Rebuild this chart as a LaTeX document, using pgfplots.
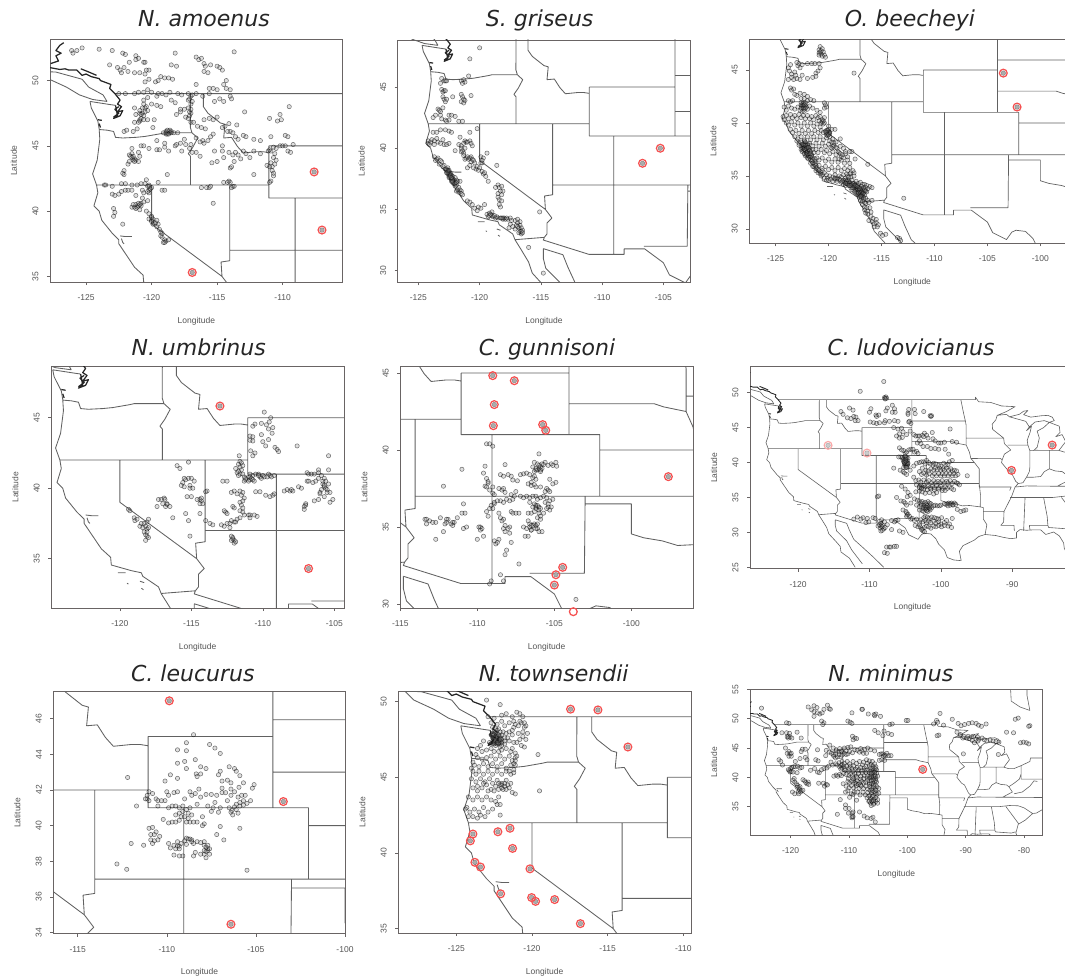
\documentclass[border=0pt]{standalone}
\usepackage{fontspec}
\setmainfont{Liberation Sans}
\newfontfamily\titlefont{DejaVu Sans}
\usepackage{pgfplots}
\pgfplotsset{compat=1.18}
\definecolor{frm}{RGB}{105,100,100}
\definecolor{lab}{RGB}{85,85,85}
\definecolor{ringred}{RGB}{245,80,80}
\pgfplotsset{
 mappanel/.style={scale only axis,clip mode=individual,axis line style={frm,line width=.95pt},
  tick style={frm,line width=.6pt},tick align=outside,major tick length=3pt,
  xtick pos=lower,ytick pos=left,axis on top=false,unbounded coords=jump,
  tick label style={font=\fontsize{8.5}{9}\selectfont,text=lab},
  yticklabel style={rotate=90,anchor=south},
  yticklabel shift=5pt,xticklabel shift=6pt,
  /pgf/number format/assume math mode=true,/pgf/number format/1000 sep={},
  xlabel={Longitude},ylabel={Latitude},
  label style={font=\fontsize{8.5}{9}\selectfont,text=lab},
  xlabel style={at={(axis description cs:.5,0)},anchor=base,yshift=-41pt},
  ylabel style={at={(axis description cs:0,.5)},anchor=base,rotate=0,yshift=33pt},
 },
 pts/.style={only marks,mark=*,mark size=2.15pt,mark options={draw=black,draw opacity=.55,fill=gray,fill opacity=.25,line width=.5pt}},
 ring/.style={only marks,mark=*,mark size=3.9pt,mark options={draw=ringred,fill=white,fill opacity=0,line width=1.25pt}},
 ringpt/.style={only marks,mark=*,mark size=2.3pt,mark options={draw=black!55,fill=gray!65,line width=.3pt}},
}
\newcommand\mapborders[1]{%
\addplot[black!62,line width=#1,line join=round,forget plot] coordinates {
(-124.7,48.4)(-124.6,47.9)(-124.1,46.9)(-124.05,46.6)(-124,46.3)(-123.95,45.5)(-124.05,44.7)(-124.15,43.9)(-124.5,42.85)(-124.2,42)(-124.1,41.4)(-124.4,40.4)(-124,40)(-123.8,39.3)(-123,38.3)(-122.5,37.8)(-122.5,37.5)(-121.9,36.6)(-121.3,35.7)(-120.65,35.1)(-120.6,34.55)(-119.2,34.15)(-118.5,34)(-118.4,33.75)(-117.3,33)(-117.1,32.5)(-116.6,31.7)(-116,30.7)(-115.7,29.8)(-114.7,28.7)(-114.1,28)(-114,27.2)(-112.8,26.3)(-112,25)(nan,nan)
(-114.8,31.8)(-114.8,31)(-114.6,30.2)(-113.2,28.8)(-112.5,27.5)(-111,25.5)(nan,nan)
(-114.8,31.8)(-113.2,31.3)(-112.8,30.3)(-112.2,29)(-111,27.9)(-109.5,26.5)(-108,25)(nan,nan)
(-123.4,48.4)(-124.5,48.55)(-125.5,48.9)(-126.5,49.5)(-127.8,50.1)(-128.4,50.7)(-127.3,50.65)(-125.3,50.1)(-124.8,49.5)(-123.7,48.9)(-123.4,48.4)(nan,nan)
(-124.7,48.4)(-123.1,48.15)(-122.75,48.1)(nan,nan)
(-122.8,49)(-95.15,49)(-95.15,49.35)(-94.7,48.7)(-93,48.6)(-91.5,48.1)(-89.6,48)(-90.8,47.3)(-92.1,46.75)(-92.3,46.1)(-92.8,45.5)(-92.75,44.75)(-91.2,43.5)(-91.1,42.7)(-90.2,41.8)(-91.1,41.2)(-91.4,40.4)(-91.5,40)(-90.7,39)(-90.2,38.7)(-89.5,37.3)(-89.15,37)(-89.6,36.5)(-90.1,35.1)(-91.15,33)(-91.2,31.5)(-91.6,31)(-89.75,31)(-89.7,30.2)(nan,nan)
(-124,46.25)(-123.4,46.2)(-122.9,46.1)(-122.75,45.65)(-122.2,45.6)(-121.2,45.65)(-120.5,45.72)(-119.3,45.93)(-119,46)(-116.92,46)(nan,nan)
(-117.03,49)(-117.04,46.4)(-116.92,46)(-116.48,45.6)(-116.85,44.9)(-117.2,44.4)(-117.03,44.2)(-117.03,42)(nan,nan)
(-124.2,42)(-111.05,42)(nan,nan)
(-120,42)(-120,39)(-114.63,35)(-114.1,34.3)(-114.5,33.9)(-114.5,33)(-114.72,32.72)(-114.8,32.5)(-111.07,31.33)(-108.2,31.33)(-108.2,31.78)(-106.53,31.78)(-105,30.65)(-104.5,29.65)(-103.2,29)(-102.7,29.7)(-102.3,29.88)(-101.4,29.77)(-100.7,29.1)(-100.3,28.3)(-99.5,27.5)(-99.1,26.4)(-98.2,26.05)(-97.15,25.95)(-97.4,27.3)(-96.9,28.1)(-95.3,28.9)(-94.7,29.4)(-93.8,29.7)(-92.3,29.55)(-91.3,29.3)(-90.2,29.1)(-89.4,29.2)(-89.4,30)(-88.9,30.4)(-88,30.3)(-87.2,30.35)(-86,30.35)(-85.3,29.7)(-84.2,30.05)(-83.4,29.5)(-82.8,28.5)(-82.7,27.7)(-81.8,26.1)(-81,25.2)(-80.2,25.5)(-80.05,26.9)(-80.6,28.5)(-81.4,30.5)(-81,32)(-79.8,32.7)(-78.5,33.85)(-77.9,33.9)(-76.5,34.7)(-75.5,35.3)(nan,nan)
(-117.12,32.53)(-114.72,32.72)(nan,nan)
(-114.04,42)(-114.04,36.2)(-114.7,36.1)(-114.63,35)(nan,nan)
(-116.05,49)(-116.05,48)(-115.7,47.5)(-114.75,46.75)(-114.4,46.65)(-114.5,45.6)(-113.9,45.65)(-113.45,44.95)(-113,44.45)(-112,44.55)(-111.5,44.55)(-111.05,44.48)(nan,nan)
(-111.05,45)(-104.05,45)(nan,nan)
(-111.05,45)(-111.05,41)(-109.05,41)(-102.05,41)(-102.05,37)(nan,nan)
(-109.05,41)(-109.05,31.33)(nan,nan)
(-114.04,37)(-94.62,37)(nan,nan)
(-104.05,49)(-104.05,41)(nan,nan)
(-104.05,45.94)(-96.56,45.94)(nan,nan)
(-104.05,43)(-98.5,43)(-97.9,42.8)(-96.45,42.5)(-96,41.5)(-95.8,40.6)(-95.3,40)(-94.62,39.1)(-94.62,36.5)(nan,nan)
(-102.05,40)(-95.3,40)(nan,nan)
(-103,37)(-103.05,32)(-106.6,32)(nan,nan)
(-103,36.5)(-100,36.5)(-100,34.55)(-99.2,34.3)(-98,34.1)(-97,33.8)(-96,33.85)(-94.5,33.65)(-94.04,33.55)(-94.04,31.9)(-93.55,31.1)(-93.8,29.7)(nan,nan)
(-94.62,37)(-94.45,35.4)(-94.48,33.65)(nan,nan)
(-94.04,33)(-91.15,33)(nan,nan)
(-94.62,36.5)(-90.15,36.5)(-90.35,36)(nan,nan)
(-95.77,40.58)(-91.7,40.6)(-91.4,40.4)(nan,nan)
(-97.2,49)(-96.8,47)(-96.56,45.94)(-96.45,45.3)(-96.45,42.5)(nan,nan)
(-96.45,43.5)(-91.2,43.5)(nan,nan)
(-90.65,42.5)(-87.8,42.5)(nan,nan)
(-87.53,41.7)(-87.53,39.3)(-87.6,38.7)(-88,37.9)(-87,37.9)(-86,38)(-85.5,38.7)(-84.8,39.1)(-84,38.8)(-83,38.7)(-82.6,38.4)(-81.7,39)(-80.8,39.7)(-80.5,40.6)(nan,nan)
(-89.15,37)(-88.5,37.1)(-88,37.9)(nan,nan)
(-84.8,39.1)(-84.8,41.73)(nan,nan)
(-87,41.76)(-84.8,41.73)(-83.45,41.73)(nan,nan)
(-89.5,36.5)(-88,36.65)(-83.7,36.6)(-81.7,36.6)(-75.9,36.55)(nan,nan)
(-90.3,35)(-84.3,35)(-82.5,35.2)(-81,35.15)(-80,34.8)(-78.55,33.85)(nan,nan)
(-88.2,35)(-88.4,30.2)(nan,nan)
(-85.6,35)(-85.1,32.3)(-85,31)(-84.9,30.7)(-82.2,30.5)(-81.5,30.7)(nan,nan)
(-87.5,30.3)(-87.6,31)(-85,31)(nan,nan)
(-83.1,35)(-81.9,33.4)(-80.9,32.05)(nan,nan)
(-83.7,36.6)(-82,37.5)(-82.6,38.4)(nan,nan)
(-81.7,37.2)(-80.3,37.5)(-79,38.5)(-78.3,39.4)(-77.7,39.3)(nan,nan)
(-75.8,39.7)(-80.5,39.7)(-80.5,42)(nan,nan)
(-87.8,42.5)(-87.53,41.7)(-87,41.7)(-86.5,42.2)(-86.2,43.5)(-86.5,44.5)(-85.6,45)(-84.8,45.75)(-85.5,46)(-86.8,45.8)(-87.6,45.1)(-88,44.55)(-87.3,45.2)(-87.5,44.3)(-87.9,43.2)(-87.8,42.5)(nan,nan)
(-92.1,46.75)(-90.8,46.9)(-90.4,46.55)(-89,46.9)(-88.4,47.35)(-87.8,47.45)(-88.4,46.85)(-87.4,46.5)(-85.9,46.7)(-85,46.75)(-84.4,46.5)(-84.1,46)(-84.8,45.75)(-83.4,45.2)(-83.3,44.3)(-83.9,43.7)(-83,44)(-82.5,43)(-83.1,42.2)(-83.45,41.73)(-82.7,41.5)(-81.7,41.5)(-80.5,42)(-79,42.7)(-78.9,43.3)(-76.8,43.3)(nan,nan)
(-90.4,46.55)(-88.1,45.9)(-87.6,45.1)(nan,nan)
(-82.3,55)(-82.2,53)(-80.7,52)(-79,51.4)(-79.5,54)(-79.5,55)(nan,nan)
(-122.4,38.1)(-122,38.05)(-121.5,38.05)(nan,nan)(-122.3,37.9)(-122.2,37.6)(-122.1,37.5)(nan,nan)
(-120.15,34)(-119.6,34)(nan,nan)(-118.6,33.4)(-118.3,33.3)(nan,nan)(-118.5,32.9)(-118.35,32.8)(nan,nan)(-119.5,33.25)(-119.4,33.2)
};
\addplot[black!85,line width=1.45*#1,line join=round,forget plot] coordinates {
(-122.75,48.1)(-122.6,47.3)(-122.9,47.1)(-122.4,47.3)(-122.2,47.7)(-122.6,47.6)(-122.3,48)(-122.6,48.2)(-122.4,48.5)(-122.8,49)(-123.2,49.4)(-123.1,49.7)(-123.9,50)(-124,50.15)(-124.6,50.3)(-125,50.5)(-125.3,50.4)(-125.7,50.8)(-126.3,50.8)(-126.6,50.9)(-127,50.85)(-127.8,51)(nan,nan)
(-122.9,47.2)(-122.5,47.5)(-122.8,47.8)(-122.5,48)(nan,nan)
(-127.7,51.3)(-127.1,51.5)(-127.3,51.9)(-126.9,52.1)(-127.3,52.3)(-127,52.7)(-126.7,52.9)(nan,nan)
(-124.2,50.4)(-124.9,50.7)(-125.4,50.9)(nan,nan)
(-124.1,47)(-123.8,46.95)(nan,nan)(-124,46.7)(-123.9,46.4)
};
}
\begin{document}
\begin{tikzpicture}[x=1pt,y=1pt]
\path[use as bounding box] (0,0) rectangle (1065pt,-976pt);
% ---------- 1 N. amoenus
\begin{axis}[mappanel,anchor=north west,at={(50pt,-39.3pt)},width=292.7pt,height=242.7pt,
 xmin=-127.75,xmax=-105.42,ymin=34.57,ymax=53.16,xtick={-125,-120,-115,-110},ytick={35,40,45,50}]
\mapborders{.85pt}
\addplot[pts] coordinates {(-126.1,52.3)(-126,52.1)(-125.7,52.3)(-125.3,52.5)(-124,52.4)(-123,52.3)(-122.2,52.1)(-122,52)(-123.2,51.2)(-122.6,51)(-122.4,50.8)(-122.1,51)(-122.3,50.6)(-121.8,50.7)(-121.7,51.4)(-121.2,51.9)(-121,51.7)(-121.2,51.6)(-120.6,51.4)(-120.5,51.4)(-121.3,50.6)(-120.9,50.6)(-120.5,50.5)(-120.4,50.8)(-120.2,50.8)(-120.5,49.9)(-120.2,50.1)(-119.7,49.9)(-119.5,50)(-119.3,50.3)(-119,50.2)(-118.7,50.2)(-118.4,50.1)(-118.5,51.2)(-118.1,51.1)(-118.2,52.1)(-116.6,51.8)(-116.4,51.6)(-116.2,51.7)(-116,51.3)(-115.9,51.1)(-116,50.7)(-115.7,50.6)(-115.5,51.2)(-115,51.1)(-114.8,51)(-114.6,50.8)(-113.7,52.2)(-114.3,50)(-114.5,49.7)(-114.3,49.4)(-114,49.3)(-115.6,49.4)(-115.3,49.4)(-115,49.3)(-116.6,49.7)(-122.5,49)(-122,49)(-121.3,49)(-121,49.1)(-120.6,49.1)(-120.3,49.3)(-120,49.1)(-119.5,49)(-119.2,49)(-118.6,49.1)(-118,49)(-117.7,48.9)(-117.2,49)(-117,48.8)(-116.6,49)(-116.1,48.8)(-115.6,49)(-115.2,48.4)(-114.5,48.4)(-114,48.8)(-113.9,48.6)(-114.8,48.6)
(-120.6,48.5)(-120.7,47.9)(-120.4,48)(-120.7,47.5)(-120.3,47.7)(-120,48.2)(-119.6,48.1)(-121.2,47.4)(-120.9,47)(-121,46.8)(-121.3,46.8)(-120.6,47)(-120.3,47)(-119.8,47)(-119.9,46.4)(-120.8,47.1)(-120.6,47.3)(-118.5,48.5)(-118.2,48.3)(-117.8,47.8)(-117.5,47.8)(-117.8,47.6)(-117.2,47.9)(-117.2,48.5)(-117,48.2)(-117.1,47.6)(-117,46.8)(-116.8,46.8)(-116.5,46.5)(-116.2,46.4)(-115.9,46.3)(-116,47)(-115.6,47.1)(-115.3,47)(-115,47.2)(-114.6,46.4)(-114.4,46.5)(-114.1,46.7)(-114,46.1)(-113.8,46)(-113.6,45.7)(-113.4,45.5)(-113.5,46.6)(-114.2,46.1)(-112.9,47.6)(-113,45.8)(-112.8,45.7)(-112.2,45.5)(-111.7,45.4)(-111,47.1)(-110.9,45.7)(-110.4,46.9)(-110.1,47)(-110.2,47.4)(-109.5,48)(-109.8,45.8)
(-118.9,46.1)(-118.8,45.9)(-118.7,46.1)(-118.5,46.1)(-118.3,46)(-118,46)(-117.5,45.5)(-117.8,45.2)(-118.1,45.1)(-118.6,46)(-118.9,45.9)(-119,45.2)(-119,44.9)(-118.7,44.6)(-119.4,44.7)(-119.6,44.7)(-120.2,44.8)(-120.6,45)(-121.5,44.8)(-120.8,45)(-119.6,45.4)(-118.2,45)(-117.7,44.6)(-117.4,45.1)(-117,45.1)(-117.1,44.8)(-116.6,44.5)(-116.9,44.5)(-116.3,44.2)(-116.6,45.6)(-116.3,45.3)(-116.1,45.4)(-116,45.2)(-115.7,45.4)(-115.5,45.7)(-115.3,45.9)(-115.2,44.6)(-115.4,43.7)(-115,43.8)(-114.6,45)(-114.6,44.6)(-114.5,44.1)(-114.1,44.5)(-113.8,44.3)(-114,43.3)(-113.9,43.4)(-113.7,43.8)(-113.2,44)(-113,44.6)(-112.8,44.4)(-113.4,44.3)(-113.6,44.5)(-112.2,44.6)(-111.7,44.4)(-112.2,42.8)(-112.5,44.1)
(-121.7,44.3)(-121.5,44.4)(-121.5,44.1)(-121.3,44)(-121.7,43.8)(-121.2,43.9)(-121,43.8)(-120.9,44.2)(-121,44.5)(-121.8,43.6)(-122.1,43.1)(-122.1,42.8)(-122.2,42.9)(-121.4,43.9)(-121.6,44.2)
(-111,44.7)(-110.9,44.6)(-110.7,44.9)(-110.6,44.4)(-110.7,44.1)(-110.9,43.7)(-110.6,43.6)(-110.8,43.4)(-111,43.4)(-110.8,43.1)(-110.7,42.7)(-110.9,42.3)(-111,42.2)(-110.7,42.9)(-110.5,44.8)(-110.2,45)(-110,45)(-109.8,45)(-109.6,44.6)(-109.4,44.5)(-109.2,45.1)(-109.6,45.7)(-111.1,44.6)(-111.2,43.5)(-110.5,43.9)
(-123.6,42)(-123.5,42)(-123,41.9)(-122.3,42.1)(-122,42.1)(-121.5,42)(-121.1,42)(-120.8,42.1)(-120.5,42.1)(-120.3,41.9)(-120.2,42)(-120.2,41.6)(-120.2,41.4)(-120,41.8)(-119.5,42.2)(-119.2,41.6)(-119,41.6)(-120.4,42.4)(-118.8,42.8)(-116.2,41.8)(-115.8,41.8)(-115.6,41.8)(-115.5,41.9)(-115.3,40.6)(-114.5,42.2)(-114.2,42.2)(-114,42.2)(-113.8,41.9)(-113.9,41.8)(-113.7,41.9)(-114.1,42.3)(-123,41.3)(-122.8,41.2)(-122.5,41.3)(-122.3,41.5)(-122,41.6)(-121.8,41.6)(-121.5,41.6)(-121.2,41.2)(-120.7,41.6)(-120.6,41.4)(-120.7,41)(-122.9,40.2)(-122.8,39.9)(-122.9,39.6)(-122.2,39)(-121.5,40.3)(-121.3,40.3)(-121.2,40.5)(-121,40.6)(-120.8,40.6)(-120.6,40.7)(-120.3,40.8)(-121.4,40.5)(-121.2,40.2)(-120.9,40.1)(-120.4,40)(-120.2,39.8)(-120,39.6)(-120.2,39.4)(-120,39.3)(-119.8,39.1)(-119.6,39.3)(-119.9,39)(-119.6,38.8)(-119.4,38.6)(-119.2,38.3)(-119.2,38)(-119,37.8)(-118.9,37.7)(-119.1,37.6)(-118.7,37.8)(-119.3,38.4)(-119.5,39)
(-121.3,47.9)(-120.9,47.5)(-120.5,47.9)(-120.3,48.7)(-119.3,48)(-119.6,48.8)(-118.9,48.9)(-118.1,47.4)(-117.4,47.2)(-117.2,47.1)(-117.1,47.3)(-117,47.5)(-117,47.8)(-116.9,48.4)(-116.9,48.9)(-117.1,48.6)(-122.1,46.1)(-121.9,46.2)(-121.4,46.1)(-121.1,46.3)(-119.1,46)(-118.9,46)(-118.8,46.2)
(-120.6,48.2)(-120.9,47.7)(-120.8,47.4)(-120.9,46.9)(-120.5,47.6)(-118.5,46)(-118.7,45.9)(-118.6,46.2)(-120.2,41.9)(-120.1,41.7)(-120.3,41.5)(-121,40.4)(-120.8,40.4)(-121.1,40.3)(-120.9,40.5)(-120,39.5)(-119.9,39.4)(-120,39.2)(-119.7,39.1)(-119.3,38.1)(-119,37.6)(-121.4,44.2)(-121.3,43.8)};
\addplot[ringpt] coordinates {(-107.6,43)(-107,38.55)(-116.9,35.3)};
\addplot[ring] coordinates {(-107.6,43)(-107,38.55)(-116.9,35.3)};
\end{axis}
% ---------- 2 S. griseus
\begin{axis}[mappanel,anchor=north west,at={(397.7pt,-40pt)},width=292.6pt,height=242.3pt,
 xmin=-126.69,xmax=-102.8,ymin=29.05,ymax=48.84,xtick={-125,-120,-115,-110,-105},ytick={30,35,40,45}]
\mapborders{.85pt}
\addplot[pts] coordinates {(-120.8,47.3)(-120,48.2)(-123.1,45.7)(-122.9,45.5)(-123.2,45.3)(-122.8,45.5)(-122.7,45.5)(-121.5,45.5)(-121.3,45.6)(-121.2,45.4)(-120.9,45.9)(-121.4,45.3)(-123.1,44.8)(-122.9,44.7)(-123,44.6)(-122.8,44.7)(-123,44.2)(-122.9,44)(-122.7,44)(-122.8,43.8)(-122.2,44.2)(-121.5,44.4)(-121.4,44.2)(-121.3,44)(-121.5,43.8)(-121.2,43.9)(-121.3,43.7)(-120.7,44.3)(-123.4,43.2)(-123.2,43)(-123,43.3)(-123.2,42.7)(-123.3,43.1)(-123.6,42.7)(-123.8,42.5)(-123.1,42.4)(-122.8,42.3)(-122.5,42.7)(-122.3,42.7)(-122,42.6)(-121.7,42.2)(-121.4,42.2)(-122.7,42.2)(-122.5,42.3)
(-124.2,40.4)(-124.2,40.6)(-124.1,40.3)(-124,40.5)(-123.9,40.7)(-123.7,40.6)(-123.5,40.8)(-123.7,40.3)(-123.4,40.5)(-123.2,40.4)(-123,40.7)(-122.9,40.3)(-122.7,40.3)(-122.5,40.4)(-123.8,41.3)(-123.5,41.3)(-123.2,41.5)(-122.8,41.5)(-122.5,41.4)(-122.3,41.3)(-121.6,40.9)(-121.2,40.6)(-121.1,40.5)(-120.8,41.3)(-120.2,41.6)(-121.7,40.3)(-121.5,40.2)(-121.3,40.4)(-121,40.5)(-120.8,40.6)(-120.7,40.4)(-120.6,40.2)(-121.5,40)(-121.4,39.8)(-121.2,40)(-121.5,39.7)(-121.3,39.6)(-122,39.8)(-119.4,39.6)(-119.9,39.3)(-119.7,39.2)(-119.8,39)(-119.9,38.8)(-119.8,38.8)(-118.6,38.6)
(-123.7,39.3)(-123.5,39.1)(-123.6,39)(-123.4,39.2)(-123.2,39)(-123.1,38.9)(-123.3,38.7)(-123,38.5)(-122.9,38.6)(-122.8,38.3)(-122.7,38.2)(-122.6,38.4)(-122.5,38.1)(-122.6,37.9)(-122.4,38)(-122.3,37.8)(-122.5,37.7)(-122.3,37.5)(-122.2,37.7)(-122.1,37.4)(-122,37.6)(-122,37.2)(-121.9,37)(-121.8,37.3)(-121.6,37.3)(-121.7,36.8)(-121.9,36.5)(-121.7,36.4)(-121.5,36.5)(-121.4,36.2)(-121,35.7)(-120.8,35.6)(-120.6,35.4)(-120.4,35.1)(-120.1,35.2)(-120.2,34.9)(-119.9,35.1)(-119.6,35.4)
(-122.7,38.3)(-122.6,38.1)(-122.4,37.9)(-122.5,37.6)(-122.3,37.3)(-122.2,37.2)(-122.1,37.1)(-122,36.9)(-121.9,37.4)(-121.8,36.6)(-121.6,36.6)(-121.5,36.3)(-122.4,37.7)(-122.2,37.5)(-122.6,38.2)(-122.7,38)
(-121.3,39.4)(-121.1,39.2)(-120.9,39.1)(-120.7,39.3)(-120.5,39)(-120.7,38.9)(-120.4,38.8)(-120.2,38.5)(-120.5,38.4)(-120.8,38.6)(-121,38.4)(-120.3,38.3)(-120.1,38.2)(-120,38.4)(-119.8,38.1)(-119.7,37.9)(-119.6,38)(-119.5,37.7)(-119.3,37.3)(-121,39.3)(-120.8,39.2)(-121.2,39.1)(-120.6,39.1)
(-118.5,37)(-118.7,36.8)(-118.4,36.8)(-118.2,36.9)(-118.3,36.5)(-118.5,36.3)(-118.2,36.2)(-118.1,36.5)(-118.4,35.8)(-118.2,35.7)(-118.4,35.4)(-118.3,35.2)(-118.5,36)
(-119.4,34.6)(-119.3,34.4)(-119.2,34.7)(-119,34.8)(-119.2,34.5)(-119,34.5)(-118.9,34.4)(-118.7,34.3)(-118.5,34.3)(-118.3,34.3)(-118.1,34.2)(-118,34.3)(-117.9,34.2)(-117.7,34.2)(-117.4,34.1)(-117.5,34.3)(-117.1,34.1)(-116.9,34.2)(-116.7,34)(-116.9,33.9)(-117,33.7)(-116.7,33.7)(-116.6,33.5)(-116.5,33.3)(-116.7,33.2)(-116.6,33)(-116.8,33.1)(-117.1,33.4)(-117.3,33.6)(-117.5,33.8)(-117.6,33.5)(-115.1,34.8)(-116,31.9)(-114.8,29.8)(-118.6,34.4)(-118.2,34.3)(-118.1,34.3)(-117.8,34.3)(-116.8,33.5)(-116.6,33.2)(-116.5,33.1)(-116.9,33.6)(-119.1,34.6)(-118.8,34.5)
(-122.5,37.9)(-122.4,37.8)(-122.3,37.6)(-122.2,37.3)(-122,37.1)(-121.9,37.2)(-122.6,38)(-122.5,38.2)};
\addplot[ringpt] coordinates {(-105.25,40)(-106.7,38.77)};
\addplot[ring] coordinates {(-105.25,40)(-106.7,38.77)};
\end{axis}
% ---------- 3 O. beecheyi
\begin{axis}[mappanel,anchor=north west,at={(749.3pt,-39.3pt)},width=326pt,height=204pt,
 xmin=-127.49,xmax=-96.7,ymin=28.65,ymax=47.89,xtick={-125,-120,-115,-110,-105,-100},ytick={30,35,40,45}]
\mapborders{.7pt}
\addplot[pts] coordinates {(-120.9,46.9)(-120.8,47.2)(-120.6,47)(-120.9,46.6)(-120.7,46.5)(-120.5,46.7)(-120.4,46.4)(-120.9,46.4)(-120.3,46.2)(-120.6,46.3)(-120.7,46.8)(-120.8,46.7)(-123,45.7)(-122.9,45.4)(-122.8,45.6)(-122.7,45.2)(-122.5,45.5)(-122,45.6)(-121.6,45.6)(-121.3,45.6)(-120.9,45.6)(-120.8,45.2)(-121,44.9)(-121.2,44.7)(-121.2,44.4)(-121.5,44.3)(-122,44.2)(-122.5,44.5)(-122.7,44.1)(-123,44.2)(-123.1,44.5)(-123.3,44.1)(-123.5,44.6)(-123.7,44.9)(-123.8,45.2)(-123.6,45.5)(-123.8,44.1)(-123.5,44.3)(-123.2,44.8)(-123.6,43.3)(-123.5,43.1)(-123.3,43.2)(-117.6,44.7)(-123.8,42.1)(-123.6,42)(-123.4,42.1)(-123.2,42.7)(-123,42.6)(-122.7,42.8)(-122.3,42.7)(-122,42.5)(-121.7,42.2)(-121.4,42.1)(-122.6,42.3)(-122.3,42.3)(-122,42.1)(-120.4,41.9)(-120.3,41.7)(-120.2,41.5)(-120.4,41.4)
(-124.2,41.5)(-124,41.2)(-123.8,41.6)(-123.5,41.4)(-123.2,41.3)(-122.9,41.5)(-122.7,41.2)(-122.5,41.6)(-122.4,41.9)(-122.3,41.5)(-122.2,41.7)(-122,41.3)(-121.8,41.6)(-121.5,41.4)(-121.1,41.2)(-120.8,41)(-122.5,41.1)(-122.3,41.3)(-122.6,41.4)(-122.1,41.5)(-124.3,40.6)(-124.2,40.3)(-124,40.7)(-123.8,40.4)(-123.6,40.8)(-123.4,40.5)(-123.2,40.7)(-123,40.4)(-122.8,40.8)(-122.6,40.5)(-122.4,40.7)(-122.2,40.4)(-122,40.7)(-121.8,40.4)(-121.6,40.6)(-121.4,40.3)(-121.2,40.7)(-121,40.5)(-120.8,40.6)(-120.6,40.3)(-120.4,40.5)(-124,40)(-123.8,39.8)(-123.5,40.1)(-123.2,39.8)(-122.9,40)(-122.6,39.7)(-122.3,40)(-122,39.7)(-121.7,40)(-121.4,39.7)(-121.1,39.9)(-120.8,39.6)(-120.5,39.9)(-120,39.7)(-119.7,39.4)
(-123.6,39.4)(-123.4,39.1)(-123.1,39.3)(-122.8,39)(-122.5,39.3)(-122.2,39)(-121.9,39.3)(-121.6,39)(-121.3,39.3)(-121,39.1)(-120.7,39.3)(-120.5,39.1)(-120.2,39.3)(-120,39.1)(-120.2,38.9)(-120.1,39)(-120,39.2)(-119.9,39)(-120.3,39.2)(-123.2,38.7)(-122.9,38.5)(-122.6,38.7)(-122.3,38.4)(-122,38.7)(-121.7,38.4)(-121.4,38.7)(-121.1,38.4)(-120.8,38.7)(-120.5,38.4)(-120.2,38.6)(-119.9,38.3)(-119.6,38.5)(-119.3,38.2)(-123,38.3)(-122.8,38.1)(-122.6,38.2)(-122.4,37.9)(-122.2,38.1)(-122,37.9)(-121.8,38.1)(-121.5,37.8)(-121.2,38.1)(-120.9,37.8)(-120.6,38.1)(-120.3,37.8)(-120,38)(-119.8,37.7)(-119.5,37.9)(-119.2,37.6)(-118.9,37.8)(-118.6,37.6)(-118.4,37.3)
(-122.8,37.9)(-122.6,37.8)(-122.5,37.6)(-122.3,37.7)(-122.4,37.4)(-122.2,37.5)(-122.1,37.2)(-122,37.4)(-121.8,37.6)(-121.9,37.1)(-121.7,37.3)(-121.5,37.5)(-121.6,37)(-121.4,37.2)(-121.2,37.5)(-121,37.2)(-120.7,37.5)(-120.4,37.2)(-120.2,37.4)(-119.9,37.1)(-119.6,37.3)(-119.3,37)(-119,37.2)(-118.7,37)(-118.4,37.1)(-118.2,36.8)(-122.2,36.9)(-122,36.7)(-121.8,36.8)(-121.7,36.5)(-121.5,36.7)(-121.3,36.4)(-121.1,36.7)(-120.9,36.5)(-120.6,36.7)(-120.3,36.4)(-120,36.6)(-119.7,36.3)(-119.4,36.6)(-119.1,36.3)(-118.8,36.5)(-118.5,36.2)(-118.2,36.5)(-118,36.2)(-121.7,36.2)(-121.5,35.9)(-121.3,36.1)(-121.1,35.8)(-120.9,36)(-120.6,35.7)(-120.3,35.9)(-120,35.6)(-119.7,35.8)(-119.4,35.5)(-119.1,35.8)(-118.8,35.5)(-118.5,35.7)(-118.2,35.5)(-118,35.8)(-117.9,35.3)(-117.6,35.3)(-116.3,36.1)
(-121.2,35.5)(-121,35.3)(-120.8,35.4)(-120.6,35.1)(-120.4,35.3)(-120.2,35.1)(-120.4,34.8)(-120.1,34.8)(-119.9,35)(-119.6,34.9)(-119.4,35.1)(-119.2,34.8)(-119,35)(-118.8,34.9)(-118.6,35.1)(-118.4,34.8)(-118.2,35)(-117.9,34.9)(-117.6,35)(-120.2,34.6)(-120,34.6)(-119.8,34.7)(-119.6,34.5)(-119.4,34.7)(-119.2,34.5)(-119,34.7)(-118.8,34.4)(-118.6,34.6)(-118.4,34.4)(-118.2,34.6)(-118,34.4)(-117.8,34.6)(-117.6,34.3)(-117.4,34.5)(-117.2,34.3)(-117,34.4)(-116.8,34.2)(-116.6,34.2)(-116.4,34.1)(-116.1,34)(-115.9,33.9)(-118.6,34.2)(-118.4,34.1)(-118.2,34.2)(-118,34.1)(-117.9,33.9)(-117.7,34.1)(-117.5,33.9)(-117.3,34.1)(-117.1,33.9)(-116.9,34)(-116.7,33.9)(-116.5,33.9)(-116.3,33.8)(-117.8,33.7)(-117.6,33.6)(-117.4,33.7)(-117.2,33.5)(-117,33.7)(-116.8,33.5)(-116.6,33.6)(-116.4,33.5)(-117.4,33.4)(-117.2,33.2)(-117,33.3)(-116.8,33.1)(-116.6,33.2)(-117.1,33)(-116.9,32.9)(-116.7,32.8)(-116.5,32.9)(-116.3,32.7)(-117,32.7)(-116.8,32.6)(-116.6,32.5)(-115.9,32.7)(-116.2,32.5)(-112.9,32.9)
(-116.8,32.3)(-116.6,32.1)(-116.5,32.4)(-116.4,32)(-116.6,31.8)(-116.3,31.7)(-116.1,32)(-116,31.6)(-116.3,31.4)(-116,31.2)(-115.8,31)(-115.9,30.7)(-115.7,30.5)(-115.5,30.9)(-115.5,30.6)(-115.3,30.4)(-115.4,30.2)(-115.1,29.6)(-114.9,29.4)(-114.6,29.5)(-113.5,29.2)(-113.3,29.1)(-113.2,28.9)(-116.2,30.8)(-115.7,30.2)(-116.5,31.5)
(-118.3,35.2)(-118,35.2)(-117.7,35.5)(-118.1,34.9)(-118.4,34.6)(-118.5,34.4)(-118.3,34.3)(-118,34.3)(-117.8,34.2)(-117.6,34.1)(-117.4,34)(-117.2,33.9)(-117,33.8)(-116.8,33.7)(-116.6,33.7)(-117.3,33.3)(-117.1,33.2)(-116.9,33.2)(-116.7,33)(-116.9,33.4)(-117,33.5)(-117.3,33.8)(-117.5,34.2)(-117.7,34.3)(-118.1,34.5)(-118.3,34.5)
(-122.3,38.3)(-122.2,38.2)(-122.5,38)(-122.3,37.9)(-122.1,37.8)(-122,38)(-122.4,37.6)(-122.2,37.4)(-122,37.3)(-121.9,37.5)(-122.3,37.1)(-122.1,37)(-121.9,36.9)(-121.7,36.8)(-121.9,36.6)(-121.6,36.4)(-121.5,36.2)(-121.4,35.9)(-121.2,35.7)(-121,35.6)(-120.8,35.2)(-120.7,35)(-122.6,37.5)(-122.5,37.3)(-120,39.4)(-120.1,39.3)(-119.9,39.1)(-120.2,39.1)(-120.1,38.8)(-119.9,38.7)(-120,38.9)(-119.7,38.2)(-119.5,38.1)(-119.6,37.8)(-119.7,37.6)(-119.3,37.7)(-119.1,37.3)(-118.9,37.1)(-118.8,36.8)(-119,36.6)(-118.6,36.7)(-122.5,41.7)(-122.4,41.8)(-122.6,41.9)(-122.2,41.9)(-122.6,41.7)(-122.4,41.6)(-122.3,41.1)(-120.5,40.2)(-120.6,40.1)(-120.7,40)(-120.4,40)(-120.9,40.2)(-119.4,39.4)(-118.9,38.5)(-118,37.3)(-117.8,37.3)(-117.5,36.6)
(-122.4,38)(-122.2,37.9)(-122,37.7)(-122.3,37.5)(-122.1,37.6)(-121.9,37.7)(-121.8,37.4)(-122,37.1)(-121.8,37.1)(-121.6,36.9)(-121.7,37.1)(-121.5,36.5)(-121.3,36.6)(-121.2,36.2)(-121.2,36)(-120.9,35.5)(-120.6,35.5)(-118.2,34.3)(-118.1,34.1)(-117.9,34.1)(-117.7,33.9)(-117.5,34.1)(-117.3,33.7)(-117.2,33.7)(-117.1,33.6)(-116.9,33.5)(-117,33.4)(-116.9,33.1)(-116.8,33.3)(-117.1,33.8)(-117.3,34)(-117.5,33.5)(-117.2,33.4)(-117,33.1)(-116.7,33.4)(-116.5,33.6)(-118.4,34.3)(-118.7,34.5)(-118.9,34.6)(-119.2,34.7)(-119.4,34.8)(-122.4,41.4)(-122.3,41.7)(-122.2,41.4)};
\addplot[ringpt] coordinates {(-103.5,44.7)(-102.2,41.5)};
\addplot[ring] coordinates {(-103.5,44.7)(-102.2,41.5)};
\end{axis}
% ---------- 4 N. umbrinus
\begin{axis}[mappanel,anchor=north west,at={(51.3pt,-366.7pt)},width=292.7pt,height=241.3pt,
 xmin=-124.8,xmax=-104.32,ymin=31.5,ymax=48.62,xtick={-120,-115,-110,-105},ytick={35,40,45}]
\mapborders{.85pt}
\addplot[pts] coordinates {(-109.9,45.4)(-109.45,45)(-109.55,44.7)(-110.1,44.6)(-110.55,44.55)(-110.7,44.4)(-109.75,44.5)(-109.3,44.3)(-109.6,44.2)(-109.35,43.9)(-110.1,43.8)(-110.9,43.7)(-110.7,43.65)(-110.9,43.4)(-110.7,43.35)(-109.6,43.45)(-110,43.3)(-109.8,43)(-109.15,42.9)(-109,42.75)(-108.9,42.6)(-107.6,43)(-110.85,42.65)(-110.55,42.5)(-110.7,42.3)(-105.4,42.3)(-111.65,42.3)(-111.6,41.9)(-111.5,41.8)(-111.7,41.7)(-111.4,41.6)(-111.6,41.5)(-111.5,41.3)(-111.7,41.2)(-111.8,41.1)(-111.6,41)(-111.4,41)(-111.7,40.9)(-111.3,40.8)(-111,40.8)(-110.9,40.6)(-110.7,40.9)(-110.5,41)(-110.3,41)(-110.2,40.8)(-110,40.9)(-109.7,40.8)(-109.5,40.9)(-109.4,40.8)(-109.2,40.9)(-111.2,40.6)(-110.8,40.7)(-112.8,40.5)(-112.5,40.5)(-111.9,41.4)(-111.2,40.7)(-111,40.5)(-110.9,41)
(-116,41.6)(-115.8,41.4)(-115.2,41.85)(-115.5,40.7)(-115.4,40.6)(-115.6,40.4)(-115.7,40.2)(-115.5,40.1)(-115.2,40.7)(-115,40.7)(-114.8,40.5)(-115.1,40.2)(-115.1,40)(-114.9,40)(-115.3,39.4)(-115,39.4)(-114.6,39.2)(-114.4,39.2)(-114.3,39.1)(-114.2,38.9)(-114.4,38.9)(-114.3,39.3)(-114,39.75)(-113.9,39.8)(-117.3,39.2)(-117.1,39.2)(-116.9,39.3)(-116.85,39.2)(-116.7,38.9)(-116.5,38.7)(-116.8,38.7)(-116.7,38.85)(-117,38.9)(-117.4,38.7)(-115.4,38.2)(-114.4,38.2)(-114,37.7)(-113.7,37.5)(-113.5,37.4)(-116.3,37.9)(-115.2,37.7)(-115.1,36.6)
(-119.4,38.5)(-119.3,38.4)(-119,37.9)(-118.95,37.7)(-118.8,37.8)(-118.6,37.3)(-118.5,37.5)(-118.3,37.5)(-118.1,37.6)(-118,37.8)(-118.2,37.3)(-118.1,37.1)(-118,37.2)(-118.3,36.9)(-118.2,36.7)(-118.1,36.9)(-118.2,36.3)(-118,36.5)(-118.1,36.6)(-118.4,37.2)
(-112.2,39.7)(-112,39.8)(-111.8,39.6)(-111.6,39.8)(-111.4,39.7)(-111.5,39.5)(-111.3,39.3)(-111.4,39.1)(-111.6,39)(-111.5,38.8)(-111.4,38.6)(-111.6,38.4)(-111.4,38.3)(-111.3,38.1)(-111,38.1)(-110.9,37.9)(-110.5,39.75)(-110.2,39.75)(-109.8,39.5)(-109.5,39.4)(-109.3,39.5)(-109.2,39.6)(-110.9,38.1)(-110.6,38.1)(-110.4,38)(-111.6,37.9)(-111.8,37.8)(-112,37.6)(-112.2,37.7)(-112.5,37.5)(-112.7,37.3)(-112.9,37.4)(-112.3,37.5)(-111.9,37.6)(-112.1,38.7)(-112,38.6)(-112.6,38.3)(-112.7,38.4)(-112.5,38.2)(-112.3,37.2)(-112.2,36.6)(-112.1,36.5)(-112,36.3)(-112.2,36.3)(-112,36.1)(-112.1,36.4)(-111.9,36.2)
(-111.3,40.5)(-110.9,40.8)(-110.7,40.6)(-110.6,40.5)(-110.3,40.9)(-110.1,40.7)(-109.9,40.8)(-109.6,41)(-108.5,39.8)(-108.3,39.9)(-108.1,39.8)(-108,39.9)(-107.9,39.8)(-107.5,40.1)(-107.3,40)(-106.9,41.1)(-106.8,41)(-106.6,41)(-106.4,41)(-106.1,41.3)(-106.1,41.1)(-106.9,40.5)(-106.8,40.5)(-106.3,40.5)(-106.1,40.7)(-105.9,40.9)(-105.8,40.5)(-105.8,40.3)(-105.7,40.1)(-105.6,40)(-105.5,39.9)(-105.4,40.3)(-105.6,40.5)(-105.9,39.9)(-106,39.7)(-106,39.6)(-105.7,39.4)(-105.5,39.7)(-105.3,39.7)(-105.1,39.2)(-105.3,39)(-106.1,39.2)(-106.4,39.1)(-107,38.9)(-107,38.8)(-107.1,38.7)(-107.1,38.5)(-105.4,41.3)(-105.7,40.7)(-106.5,40.4)(-105.7,40.2)};
\addplot[ringpt] coordinates {(-113,45.83)(-106.8,34.3)};
\addplot[ring] coordinates {(-113,45.83)(-106.8,34.3)};
\end{axis}
% ---------- 5 C. gunnisoni
\begin{axis}[mappanel,anchor=north west,at={(400.3pt,-366.7pt)},width=292.7pt,height=241.3pt,
 xmin=-115,xmax=-96,ymin=29.74,ymax=45.41,xtick={-115,-110,-105,-100},ytick={30,35,40,45}]
\mapborders{.85pt}
\addplot[pts] coordinates {(-109.4,40.4)(-109.2,40.4)(-109,40.25)(-111,38.75)(-109.5,38.95)(-109.6,38.5)(-109.4,38.15)(-109.3,37.95)(-109.5,37.65)(-109.3,37.85)(-109,37.6)(-109.2,37.4)(-109.4,37.6)(-109,37.2)(-108.9,37.1)(-108.6,37.5)(-108.4,37.4)(-108.3,37.5)(-108.2,37.25)(-108.5,38.4)(-108.3,38.3)(-108.2,39.05)(-108,38.4)(-107.8,38.3)(-107.7,38.05)(-107.4,38)(-107.2,38.4)(-107,38.45)(-106.8,38.5)(-106.6,38.4)(-106.4,38.2)(-106.2,38.1)(-106.1,38.7)(-106.3,38.6)(-106,38.8)(-105.9,38.6)(-105.9,38.9)(-105.8,38.8)(-106,39)(-106.1,39.1)(-106.3,39.2)(-105.8,39.1)(-105.6,39.2)(-105.4,39)(-105.2,39.1)(-105.1,39)(-104.9,39.2)(-104.85,38.95)(-105.7,39.05)(-106,39.75)(-106.3,38.3)(-106.5,37.9)(-106.7,37.8)(-106.5,37.7)(-106.3,37.75)(-106.2,37.6)(-105.9,37.6)(-105.5,37.5)(-105.4,37.4)(-105.6,37.3)(-105.3,37.3)(-105.1,37.8)(-104.9,37.9)(-105.3,38.1)(-112.2,37.65)(-107.5,37.3)(-107.8,37.1)(-107.6,37)(-107.2,37)(-106.8,37)(-106.6,36.9)(-106.4,37)(-106.2,37)(-106.1,36.8)(-105.9,36.9)(-105.7,37)(-105.5,36.9)(-105.3,36.7)(-105.1,36.8)(-105.6,36.6)(-105.4,36.5)(-105.2,36.3)(-105.3,36.1)(-105.4,36.3)
(-106.6,36.6)(-106.3,36.5)(-106.2,36.3)(-106,36.3)(-106.1,36.4)(-106.2,36.2)(-106,36.1)(-106.3,36)(-106.5,35.9)(-106.7,35.9)(-106,35.9)(-105.9,35.7)(-106.1,35.6)(-106.3,35.2)(-106.4,35.1)(-106.6,35.2)(-106.2,35.1)(-106.1,34.9)(-106.5,34.8)(-106.9,34.4)(-106.7,34.4)(-106.5,34.8)(-106,34.7)(-105.8,34.7)(-107,35)(-106.7,35.4)(-107.3,35.9)(-107.5,35.9)(-107.8,36)(-107.7,35.9)(-108.3,35.5)(-108.4,35.4)(-108.5,35.6)(-108.6,35.9)(-107.9,35)(-107.9,34.6)(-108,34.9)(-108.2,34.7)(-108.3,34.9)(-108.2,35.1)(-107.8,34)(-108.6,34.2)(-108.7,34)(-108.8,33.9)(-108.9,34.1)(-108.1,33.5)(-108.2,33.2)(-107.3,32.6)(-108.5,31.9)(-108.3,31.5)(-109.1,31.5)(-109.2,31.3)(-103.6,30.3)
(-108.5,36.7)(-108.3,36.6)(-108.1,36.8)(-107.9,36.7)(-107.7,36.8)(-108.9,36.5)(-109.1,36.4)(-109,36.2)(-108.7,36.7)(-108.9,36.6)(-109.4,36)(-109.3,35.7)(-109.8,35)(-109.8,34.8)(-109.7,34.9)(-109.9,35)(-109.6,34.4)(-110,34.2)(-110.8,35.9)(-110.9,36.5)(-111,35.9)(-110.7,35)(-110.9,34.9)(-111.3,35.6)(-111.5,35.3)(-111.6,35.3)(-111.7,35.2)(-111.9,35.5)(-111.6,35.1)(-112,35.5)(-112,35.3)(-112.1,35.2)(-112.4,35.6)(-112.7,35.3)(-113.1,35.4)(-112.9,35.3)(-113.3,35.5)(-113.4,35.5)(-113.3,35.2)(-112.2,34.7)(-112.7,34.2)(-109.2,36.2)
(-107,36.9)(-106.4,36.3)(-106.2,36.4)(-105.9,36.2)(-106.8,34.9)(-106.6,35)(-106.2,34.9)(-106.1,35.2)(-106.5,35.1)(-105.9,35.5)(-105.7,35.9)(-105.5,36.2)(-106.4,38.9)(-106.2,38.8)(-105.9,38.7)(-106.2,38.7)};
\addplot[ringpt] coordinates {(-109,44.83)(-107.6,44.5)(-108.9,42.95)(-108.96,41.58)(-105.76,41.65)(-105.56,41.28)(-97.6,38.27)(-104.46,32.38)(-104.9,31.9)(-105,31.23)};
\addplot[ring] coordinates {(-109,44.83)(-107.6,44.5)(-108.9,42.95)(-108.96,41.58)(-105.76,41.65)(-105.56,41.28)(-97.6,38.27)(-104.46,32.38)(-104.9,31.9)(-105,31.23)};
\end{axis}
\begin{axis}[hide axis,scale only axis,anchor=north west,at={(400.3pt,-366.7pt)},width=292.7pt,height=249pt,clip=false,
 xmin=-115,xmax=-96,ymin=29.24,ymax=45.41]
\addplot[ring] coordinates {(-103.77,29.5)};
\end{axis}
% ---------- 6 C. ludovicianus
\begin{axis}[mappanel,anchor=north west,at={(750pt,-366.7pt)},width=325pt,height=202pt,
 xmin=-126.74,xmax=-81.2,ymin=24.8,ymax=53.72,xtick={-120,-110,-100,-90},ytick={25,30,35,40,45,50}]
\mapborders{.6pt}
\addplot[pts] coordinates {(-111.3,50.2)(-108,51.6)(-107.9,49.3)(-107.8,49.2)(-107.7,49.4)(-107.6,49.2)(-107.8,49.1)(-114,47.3)(-113.7,46.9)(-112.8,47.8)(-112.3,47.5)(-113.1,46.4)(-112.6,46.3)(-112.2,46.6)(-111.9,46.5)(-112,46)(-111.6,46)(-109.8,47.7)(-110,47.2)(-109.1,46.8)(-109,46.6)(-108.7,46.8)(-109.9,45.8)(-109.4,45.7)(-109,45.6)(-108.6,45.7)(-107.5,47.8)(-107.7,47.4)(-106.8,48.2)(-106.5,47.7)(-106.8,47.2)(-106.4,47.2)(-107.8,46)(-107.9,45.7)(-107.2,45.9)(-106.5,46)(-106,45.9)(-104.6,47.1)(-104.6,46.9)(-104.5,47.6)(-104.4,45.9)(-104.2,45.6)(-104.5,45.8)(-103.7,47.6)(-103.6,47)(-102.4,47.3)(-101.5,46.7)(-101.3,46.7)(-101.4,46.6)
(-106.6,45)(-106,44.8)(-105.5,44.9)(-105.3,44.4)(-105.8,44.1)(-106.2,43.8)(-105.8,43.5)(-105.4,43.6)(-104.8,44)(-104.3,44.5)(-103.8,44)(-103.5,43.8)(-103.2,43.8)(-103,43.8)(-102.6,43.9)(-102.4,43.7)(-102.3,44.2)(-102,43.9)(-101.8,43.5)(-101.2,44.3)(-101.1,43.4)(-100.8,43.1)(-100.3,42.8)(-100,42.8)(-99.5,42.9)(-98.4,43)(-97.8,42.9)(-98.7,44.8)(-103,43.1)(-103.3,42.8)(-102.8,42.7)(-102.5,42.3)(-101.9,42.3)(-101.4,42)(-100.8,42)(-100.3,41.9)(-99.4,41.9)(-98.9,41.2)
(-105.8,42.1)(-105.5,41.8)(-105.2,41.7)(-105,41.3)(-104.8,41.5)(-104.5,41.8)(-104.2,41.9)(-103.9,41.9)(-103.7,41.5)(-103.4,41.6)(-103.2,41.3)(-105.9,40.8)(-105.6,40.8)(-105.4,40.7)(-105.2,40.6)(-105,40.8)(-104.8,40.7)(-104.6,40.6)(-105.3,40.4)(-105.1,40.3)(-104.9,40.4)(-104.7,40.2)(-105.2,40.1)(-105,40)(-104.8,40)(-104.6,39.9)(-105.1,39.8)(-104.9,39.8)(-104.7,39.7)(-105,39.6)(-104.8,39.5)(-104.6,39.4)(-105.2,39.3)(-104.9,39.3)(-104.7,39.9)(-105,40.9)(-104.9,40.5)(-105.1,40)(-104.9,40.2)(-104.8,39.3)(-106.6,39.2)(-105.7,38.9)(-105.3,38.7)(-105.1,38.5)(-104.8,38.3)(-104.3,38.9)(-103.8,39.5)(-103.4,39.9)(-103,40)(-102.7,40.1)(-102.4,40.1)(-102.2,39.8)(-102,40.3)(-101.7,40)(-101.5,39.8)(-101.1,39.6)(-101,39.9)
(-100.7,39.8)(-100.3,39.6)(-100,39.5)(-99.6,39.9)(-99.3,39.6)(-99,39.7)(-98.8,40.1)(-98.4,40.3)(-102.6,39.2)(-102.1,38.9)(-101.7,38.8)(-101.4,39.1)(-101,38.9)(-100.8,39.2)(-100.5,39)(-100.2,39.2)(-100,38.9)(-99.7,39.1)(-99.5,38.9)(-99.2,39.2)(-98.9,38.9)(-98.6,39.1)(-98.4,38.8)(-98.1,38.9)(-97.8,38.8)(-96.3,38.1)(-103,38.7)(-102.7,38.3)(-102.4,38.5)(-102,38.2)(-101.6,38.4)(-101.2,38.1)(-100.9,38.4)(-100.6,38.1)(-100.3,38.4)(-100,38.1)(-99.8,38.4)(-99.5,38.1)(-99.3,38.4)(-99,38.1)(-98.7,38.4)(-98.4,38.1)(-98.2,38.4)(-97.9,38.1)(-97.6,38.3)(-103.8,37.9)(-103.5,37.4)(-103.1,37.5)(-102.8,37.2)(-102.4,37.5)(-102,37.2)(-101.7,37.4)(-101.3,37.1)(-101,37.4)(-100.7,37.1)(-100.4,37.3)(-100.1,37.1)(-99.8,37.4)(-99.5,37.1)(-99.2,37.3)(-99,37.1)(-98.7,37.4)(-98.4,37)(-98.1,37.3)(-97.8,37.1)(-97.6,37)(-97.4,36.8)
(-103.4,36.8)(-103,36.6)(-102.8,36.8)(-102.6,36.5)(-102.4,36.7)(-102.2,36.5)(-101.8,36.6)(-101.5,36.4)(-101.2,36.6)(-100.9,36.4)(-100.6,36.7)(-100.3,36.4)(-100,36.6)(-99.7,36.3)(-99.4,36.5)(-99.1,36.3)(-98.8,36.5)(-98.5,36.3)(-98.2,36.1)(-103,36.4)(-102.7,36.3)(-102.4,36.2)(-101.9,36.1)(-101.4,36.2)(-100.9,36.1)(-100.3,36.2)(-99.8,36)(-99.4,36)(-103.5,35.8)(-103,35.9)(-102.6,35.8)(-102.2,35.6)(-101.6,35.7)(-101,35.5)(-100.6,35.7)(-105.5,36.6)(-105,36.2)(-104.6,35.7)(-104.3,35.3)(-104.7,35.1)(-108.9,35.1)(-108.7,35.2)(-106.2,35)(-105.6,34.5)(-105.2,34.4)(-105,34.2)(-104.8,33.9)(-104.2,34.2)(-103.7,34.8)(-103.3,34.6)(-103,34.5)(-102.8,34.2)(-102.6,34.4)(-102.4,34.1)(-102.2,34.3)(-102,34.1)(-101.8,34.4)(-101.6,34.2)(-101.4,34.1)(-103.4,33.9)(-103,33.7)(-102.7,33.9)(-102.5,33.6)(-102.3,33.8)(-102.1,33.6)(-101.9,33.8)(-101.7,33.6)(-101.5,33.8)(-101.3,33.5)(-101,33.8)(-102.4,33.4)(-102.2,33.3)(-102,33.5)(-101.8,33.3)(-101.6,33.4)(-103,33.2)(-102.6,33.1)(-102.4,33)(-102,33.1)(-101.5,33.2)(-101.8,33)(-100.8,33.9)(-100.5,33.8)(-100.2,33.8)(-100,33.9)(-99.5,34.1)(-99.3,34)(-99.1,34.1)(-98.9,34.2)(-98.7,34.1)(-98.5,34.2)(-98.3,34)(-98.1,34.2)(-98.7,33.9)(-98.3,33.9)(-99,33.8)(-97.9,34)(-97.7,33.3)(-97.2,33)(-96.8,33.1)(-96.5,33.2)
(-105.3,33.2)(-104.9,33)(-104.8,32.8)(-104.7,32.5)(-104.6,32.6)(-104.8,32.3)(-104.4,32.3)(-106,31.8)(-106.3,31.7)(-106.5,31.5)(-106.9,31.7)(-104.2,31.9)(-104,32)(-103.7,31.7)(-103.4,31.9)(-103,31.5)(-102.8,31.8)(-102.5,31.5)(-102.2,31.7)(-102,31.4)(-101.7,31.6)(-101.4,31.4)(-101,31.6)(-100.7,31.3)(-100.3,31.5)(-100,31.2)(-99.5,31.4)(-99.2,31.7)(-98.8,31.2)(-98.4,32)(-101.6,32)(-101.9,32.2)(-102.2,32.3)(-102.4,32.1)(-101.3,32.2)(-100.9,32.1)(-100.6,32)(-100.3,31.9)(-99.9,32.1)(-103.6,31)(-103.2,30.8)(-102.9,30.8)(-102.6,30.5)(-102.3,30.7)(-102,30.9)(-101.7,30.8)(-101.4,30.6)(-103,31.1)(-102.7,30.4)(-101,30.9)(-100.7,30.8)(-100.3,31)(-99.9,30.8)(-99.5,31)(-99,30.9)(-98.5,30.7)(-102.5,30.2)(-102.3,30.1)
(-112.2,31.9)(-111.7,32.2)(-111.2,31.9)(-110.9,32.1)(-110.3,32)(-109.5,32.1)(-109.2,32)(-110.5,31.4)(-110.1,31.5)(-108.3,31.8)(-108.6,31.6)(-108.4,31.3)(-108.2,31.1)(-108.6,31.1)(-108.8,30.9)(-108.4,30.9)(-108.5,30.6)(-108.2,30.8)(-108,30.5)(-108.2,30.3)(-108.4,30.2)(-107.8,30.7)(-106.9,30.4)(-107.5,31.1)(-107.9,31.5)(-107.6,27.9)(-107.2,27.9)(-107,27.9)(-106.5,28)(-106.2,28)(-107.9,27.1)(-107.5,27)(-105.8,30.2)(-105.3,30)};
\addplot[ringpt] coordinates {(-90.1,38.88)(-84.4,42.5)};
\addplot[ring] coordinates {(-90.1,38.88)(-84.4,42.5)};
\addplot[only marks,mark=*,mark size=2.3pt,mark options={draw=black!40,fill=gray!40,line width=.3pt}] coordinates {(-115.8,42.46)(-110.35,41.36)};
\addplot[only marks,mark=*,mark size=3.9pt,mark options={draw=ringred!50,fill opacity=0,line width=1.2pt}] coordinates {(-115.8,42.46)(-110.35,41.36)};
\end{axis}
% ---------- 7 C. leucurus
\begin{axis}[mappanel,anchor=north west,at={(53.3pt,-691.7pt)},width=292.4pt,height=242pt,
 xmin=-116.37,xmax=-99.96,ymin=33.94,ymax=47.51,xtick={-115,-110,-105,-100},ytick={34,36,38,40,42,44,46}]
\mapborders{.85pt}
\addplot[pts] coordinates {(-108.5,45.1)(-108.9,44.65)(-109.4,44.25)(-108.9,44.2)(-107.6,44.55)(-107.3,44.35)(-107,44.05)(-108.4,43.7)(-109.4,43.5)(-109,43.6)(-108.9,43.2)(-108.1,43.3)(-107.8,43.2)(-106.5,43.3)(-106.2,43.2)(-106.1,43.05)(-107,43.05)(-107.1,42.85)(-105.9,42.8)(-108.35,42.9)(-108.1,42.9)(-108.3,42.75)(-109.8,42.85)(-109.4,42.65)(-110.1,42.5)(-106.6,42.55)(-106.4,42.4)(-106.9,42.5)(-105.7,42.4)(-105.1,42.3)(-105.2,42.1)(-112.2,42.7)(-106.9,42.1)(-106.7,41.85)(-106.4,42.05)(-106.2,41.9)(-105.95,42.15)(-110,41.9)(-109.9,41.7)(-109.6,41.85)(-109.4,41.9)(-109,41.5)(-108.6,41.7)(-108.4,41.8)(-108.2,42.05)(-108.7,41.9)(-108.1,41.6)(-107.8,41.75)(-107.5,41.75)(-107.2,41.7)(-106.9,41.85)(-106.6,41.4)(-106.4,41.7)(-106,41.6)(-105.8,41.7)(-105.6,41.7)(-105.3,41.4)(-105.7,41.4)(-105.9,41.3)(-106.1,41.2)(-106.2,41.05)(-106.5,41)(-106.35,40.85)(-106.1,40.9)(-105.9,41.1)(-105.7,41.15)(-105.5,41.25)(-106,40.7)(-106.4,40.75)(-106.3,40.6)(-107.3,41.3)(-107.4,41)(-107.5,40.8)(-107.1,40.75)(-107,41)(-105.9,39.85)(-107,39.95)(-106.8,39.2)(-107.2,39.5)
(-111.1,41.5)(-111.1,41.7)(-111,41.4)(-111.2,41.5)(-111,41.9)(-110.8,41.8)(-110.6,41.5)(-110.5,41.4)(-110.3,41.4)(-110.1,41.4)(-111.7,41.1)(-110.5,41.1)(-109.9,41)(-109.7,41.1)(-109.5,41.1)(-109.3,41)(-109.1,41.1)(-108.9,40.9)(-108.7,41)(-109.3,40.7)(-109.1,40.8)(-108.8,40.7)(-109.2,40.5)(-109,40.5)(-108.8,40.4)(-108.6,40.6)(-108.9,40.2)(-108.7,40.2)(-108.5,40.2)(-108.3,40.2)(-109.3,40.3)(-109.5,40.2)(-109.7,40.2)(-109.9,40.15)(-110.2,40.35)(-109.5,40.6)(-108,40.5)(-107.9,40.1)(-108,40)(-107.7,41.1)(-108.3,41.2)
(-110.8,39.9)(-111,39.85)(-110.9,39.5)(-110.7,39.5)(-110.6,39.65)(-110.4,39.4)(-110.5,39.2)(-110.7,39.15)(-110.9,39.2)(-111.3,38.9)(-110.8,39)(-112,39)(-109.9,39)(-109.6,38.9)(-109.4,38.85)(-109.3,38.85)(-109.2,39)(-109.4,39.1)(-109,39.15)(-108.9,39.3)(-108.8,39.25)(-108.6,39.2)(-108.5,39)(-108.3,39.1)(-108.1,39.05)(-107.9,38.9)(-107.8,38.8)(-107.7,38.6)(-107.9,38.6)(-107.7,38.9)(-107.6,38.4)(-107.8,38.2)(-108.1,38.4)(-108.4,38.5)(-108.5,38.3)(-109.1,38.3)(-109.3,38.3)(-109.6,38.35)(-109.5,38.7)(-109.3,38.7)(-109.8,38.75)(-108.9,38.95)(-107.7,38.7)(-107.9,38.4)(-107.8,38.55)(-107.6,38.7)(-107.9,39.1)(-105.5,37.5)(-112.8,37.85)(-112.25,37.55)(-108.6,39.1)(-108.7,39.25)};
\addplot[ringpt] coordinates {(-109.86,47)(-103.46,41.35)(-106.4,34.47)};
\addplot[ring] coordinates {(-109.86,47)(-103.46,41.35)(-106.4,34.47)};
\end{axis}
% ---------- 8 N. townsendii
\begin{axis}[mappanel,anchor=north west,at={(398.3pt,-691pt)},width=292.7pt,height=242pt,
 xmin=-128.83,xmax=-109.49,ymin=34.71,ymax=50.7,xtick={-125,-120,-115,-110},ytick={35,40,45,50}]
\mapborders{.85pt}
\addplot[pts] coordinates {(-123,50.1)(-122.1,49.8)(-122.9,49)(-122.5,48.9)(-122,49.1)(-121.7,49.2)(-121.3,49)(-121,49.3)(-120.8,49.2)(-120.6,49)(-120.7,48.6)(-121.2,48.7)(-120.9,48.4)(-120.5,48.3)(-120.3,47.9)(-120.6,48)(-120.9,47.9)(-120.4,47.5)(-120.8,47.5)(-121,47.3)(-120.7,47.1)(-120.5,47)(-119.6,46.5)(-121.2,48.3)(-121.5,48.6)(-121.8,48.4)(-122,48.7)(-122.3,48.5)(-122.2,48.2)(-122.1,48)(-121.9,48)(-122.3,47.9)(-122.1,47.7)(-122.4,47.7)(-122.2,47.5)(-122,47.5)(-121.8,47.6)(-121.6,47.6)(-122.4,47.3)(-122.1,47.3)(-121.8,47.2)(-121.5,47.4)(-121.3,47.8)(-121.2,47.3)(-122.4,47.1)(-122.1,47)(-122.2,47.2)(-122,47.1)(-122.3,47.4)(-122.1,47.6)(-122,47.3)(-121.8,47.4)(-122.5,47.5)(-122.6,47.2)(-122.7,47.8)(-122.8,47.3)(-123.2,47.4)(-123.4,47.1)(-123.6,46.9)(-123.3,46.7)(-123,46.8)(-122.7,46.9)(-122.5,46.7)(-122.2,46.7)(-122,46.8)(-121.7,46.9)(-121.4,46.7)(-121.3,46.9)(-121.1,46.6)(-123.6,46.3)(-123.3,46.2)(-123,46.3)(-122.7,46.4)(-122.4,46.2)(-122.1,46.4)(-121.8,46.2)(-121.5,46.4)(-121.3,46.1)(-121.1,46.3)(-123.8,45.8)(-123.5,45.7)(-123.2,45.9)(-122.9,45.7)(-122.6,45.9)(-122.3,45.7)(-122,45.9)(-121.7,45.6)(-121.4,45.8)(-121.2,45.5)(-121.1,45.8)
(-123.9,45.4)(-123.7,45.2)(-123.5,45.4)(-123.2,45.2)(-122.9,45.4)(-122.6,45.2)(-122.3,45.4)(-122,45.2)(-121.7,45.4)(-121.4,45.2)(-121.2,45.3)(-124,44.9)(-123.7,44.7)(-123.4,44.9)(-123.1,44.7)(-122.8,44.9)(-122.6,44.6)(-122.3,44.8)(-122,44.6)(-121.7,44.8)(-121.4,44.6)(-121.6,44.5)(-123.9,44.3)(-123.6,44.1)(-123.3,44.3)(-123,44.5)(-122.7,44.2)(-122.4,44.4)(-122.2,44.2)(-122,44.5)(-121.8,44.4)(-121.9,44.2)(-121.7,44.2)(-121.5,44.3)(-121.3,44)(-121.1,43.9)(-122,44.3)(-122.1,44.5)(-124.2,43.7)(-123.9,43.5)(-123.6,43.7)(-123.3,43.5)(-123,43.7)(-122.7,43.5)(-122.4,43.4)(-122.2,43.7)(-124.3,43)(-124.1,42.7)(-123.8,42.9)(-123.5,42.7)(-123.2,43)(-122.9,42.7)(-122.6,42.9)(-122.3,43.2)(-122.1,43.2)(-124.4,42.9)(-124.2,42.4)(-123.9,42.4)(-123.6,42.3)(-123.4,42.5)(-123.1,42.4)(-122.1,42.5)(-119.5,44.1)(-123.6,44.4)(-123.2,44.6)(-122.9,44.1)(-122.5,44.1)
(-122.7,48.6)(-122.6,48.3)(-122.5,48)(-122.4,48.2)(-122.3,48.1)(-122.6,47.6)(-122.5,47.3)(-122.4,47.5)(-122.3,47.6)(-122.2,47.4)(-122.3,47.2)(-122.2,47.3)(-122.1,47.4)(-122.3,47.7)(-122.1,47.5)(-122,47.8)(-122.5,47.8)(-122.4,47.9)(-122.2,47.8)(-122.4,47.4)(-122.5,47.2)(-122.3,47.3)(-122.6,47.9)(-121.7,47.9)(-121.5,48)(-121.3,48.1)(-121.1,48.5)(-120.8,48.7)(-120.5,48.6)(-120.4,48.4)(-120.6,47.7)(-121,46.4)(-121.1,46.1)(-121.2,45.9)(-121.5,45.4)(-121.8,44.6)(-122.2,44.6)(-123.9,46)(-123.7,46.5)(-124,45.6)};
\addplot[ringpt] coordinates {(-117.45,49.5)(-115.64,49.45)(-113.66,47)(-123.9,41.25)(-124.07,40.8)(-122.25,41.4)(-121.45,41.63)(-121.28,40.3)(-120.13,38.95)(-123.77,39.38)(-123.4,39.07)(-122.07,37.3)(-120.02,37.05)(-119.76,36.8)(-118.5,36.92)(-116.8,35.33)};
\addplot[ring] coordinates {(-117.45,49.5)(-115.64,49.45)(-113.66,47)(-123.9,41.25)(-124.07,40.8)(-122.25,41.4)(-121.45,41.63)(-121.28,40.3)(-120.13,38.95)(-123.77,39.38)(-123.4,39.07)(-122.07,37.3)(-120.02,37.05)(-119.76,36.8)(-118.5,36.92)(-116.8,35.33)};
\end{axis}
% ---------- 9 N. minimus
\begin{axis}[mappanel,anchor=north west,at={(750pt,-689pt)},width=292.7pt,height=146pt,
 xmin=-126.97,xmax=-76.8,ymin=30.17,ymax=55.06,xtick={-120,-110,-100,-90,-80},ytick={35,40,45,50,55}]
\mapborders{.58pt}
\addplot[pts] coordinates {(-125,51.8)(-120.7,49.3)(-120.3,49.2)(-117,52)(-116,52.2)(-115.5,51.9)(-116.4,51.5)(-116,51.2)(-115.4,51)(-115,50.8)(-114.6,51)(-114.3,51.6)(-113.7,52.3)(-113.4,51.7)(-113.2,51.6)(-116,50.4)(-114.7,49.6)(-114.3,49.3)(-114.5,49)(-109.5,51)(-110.2,49.6)(-109.8,49.4)(-109.5,49.2)(-107.8,51.6)(-107.7,51.6)(-106.7,50.8)(-105.7,50.7)(-105.4,50.8)(-105.6,50.5)(-104.6,50.4)(-103,49)(-102.6,49.1)(-100.2,49.7)(-99.9,49.7)(-95.5,49.1)(-95,49.7)(-94.8,49.4)(-94.4,50.9)(-93.8,48.9)(-92.3,49.9)(-91.3,49.2)(-90.8,48.8)(-90.2,49)(-89.5,49.2)(-88.9,49.3)(-88.2,49.2)(-87.8,48.9)(-87.3,48.7)(-86.5,49.1)(-81,50.1)(-81.5,49.9)(-79,48.8)(-79.2,48.7)(-94.6,47.2)(-94.9,47.1)(-83,47.7)(-81.8,47.6)(-80.6,45.9)(-80.1,46)(-79.6,45.9)(-79.2,45.7)
(-91.5,47.7)(-90.9,47.3)(-90.3,47)(-89.8,46.7)(-89.4,46.6)(-89,46.9)(-88.7,47)(-88.2,46.5)(-88,46.9)(-87.7,46.5)(-87.2,46.7)(-86.8,46.4)(-86.4,46.2)(-85.8,46.4)(-85.3,46.2)(-84.8,46.1)(-84.3,46)(-91,47.1)(-90.5,46.7)(-89.6,47)(-88.9,46.3)(-88.5,45.9)(-87.9,46.2)(-90.4,44)(-84.4,43.9)(-121.5,47.6)(-120.7,47.6)(-120.2,47.5)(-120.4,47)(-120.1,46.9)(-120.4,46.7)(-120.6,46.9)(-119.8,46.7)(-118.9,47.7)(-118.2,46.7)(-120.9,45)(-120.3,44.4)(-120.6,44.1)(-120.1,44)(-119.9,44.1)(-120.3,43.6)(-119.9,43.6)(-119.2,42.7)(-122,43)(-121.7,42.7)(-121.4,42.1)(-118.2,44.4)(-118,44.8)(-117.5,44.8)(-117.5,43.4)(-117.2,43)(-118.4,43.2)(-115.4,44.7)(-115.7,43)(-115.3,42.8)(-114,43.7)(-113.9,44.6)(-113.3,45.5)(-112.7,45)(-112.2,44.7)(-111.6,44.9)(-111.2,44.4)(-110.8,45)(-110.2,45.1)(-109.7,45.2)(-109.4,47)(-109,46.7)(-109.3,46.4)(-108.7,46.6)(-108,44.9)(-107.3,44.8)(-106.8,45)(-106.3,44.7)(-105.6,44.5)(-104.8,43.9)(-104.5,44)(-104.2,44)(-103.9,43.8)(-103.7,43.7)(-103.5,44.1)(-104.1,43.6)(-103.2,43.7)(-102.8,43.7)(-104.4,43)(-104.8,42.9)(-103.9,42.9)(-105.6,48)(-105,47.6)(-104,47.9)(-103.3,47.5)(-102.7,47.3)(-104.2,47.1)
(-120.4,41.3)(-120.2,41.1)(-120,41.5)(-119.8,41.7)(-119.5,41.8)(-119.2,41.8)(-118.8,41.9)(-118.4,41.6)(-118.1,41.7)(-120.1,40.9)(-119.9,41)(-119.6,40.9)(-118.9,40.8)(-119.4,39.8)(-119.6,39.5)(-119.3,39.2)(-119,38.9)(-118.8,38.6)(-118.6,38.2)(-118.4,38.4)(-118.9,38.3)(-118.5,37.9)(-118.2,37.7)(-118.7,37.5)(-118.6,37.2)(-118.3,37.5)(-117.9,37.8)(-119.7,37.5)(-119.3,37.2)(-117.9,39.6)(-117.6,39.4)(-117.4,39.1)(-117,39.2)(-117.2,38.9)(-116.9,38.8)(-116.6,41.2)(-115.9,41.5)(-115.4,40.9)(-115.1,40.8)(-114.7,41.3)(-114.3,41.5)(-113.8,41.6)(-113.5,41.9)(-115.2,39)(-114.4,39)(-113.9,38.8)(-114.2,38.5)(-113.7,38.7)
(-113.4,44.3)(-113,44.1)(-112.7,43.9)(-112.3,43.9)(-112.6,43.6)(-112.3,43.3)(-112,43.5)(-111.7,43.9)(-111.4,43.5)(-111.2,43.8)(-110.8,44.1)(-110.5,43.9)(-110.2,44)(-109.9,44.4)(-109.4,44.2)(-109,44.7)(-108.6,44.6)(-108.2,44.3)(-107.8,44.5)(-107.5,44.1)(-107,44.1)(-113.1,42.6)(-112.8,42.1)(-112.3,42.3)(-112,42.1)(-111.6,41.8)(-111.4,42)(-111.2,41.6)(-110.9,41.9)(-110.7,41.5)(-110.4,41.9)(-110,41.5)(-109.8,41.9)(-109.5,41.5)(-109.2,41.9)(-108.9,41.4)(-108.6,41.7)(-108.3,41.3)(-108,41.7)(-107.7,42.1)(-107.4,41.6)(-107.1,41.9)(-106.8,42.4)(-106.5,42)(-106.2,42.2)(-105.9,41.9)(-105.6,42.3)(-105.4,41.8)(-111.7,42.5)(-111.2,42.7)(-110.8,42.4)(-110.3,42.7)(-109.9,42.3)(-109.3,42.7)(-108.7,42.4)(-108.2,42.7)(-107.5,42.6)(-107,43)(-106.5,42.8)(-106,42.7)(-112.2,40.4)(-112.6,40.2)(-111.9,40.2)(-111.6,40.5)(-111.3,40.3)(-110.9,40.7)(-110.5,40.5)(-110,40.3)(-109.7,40.6)(-109.4,40.3)(-109,40.6)(-108.7,40.2)(-108.4,40.6)(-108,40.2)(-107.7,40.7)(-107.4,40.3)(-107.1,40.8)(-106.8,40.3)(-106.5,40.8)(-106.2,40.4)(-105.9,40.8)(-105.6,40.4)(-105.3,40.7)(-105.1,40.2)(-107.4,41.2)(-107,41.2)(-106.6,41.2)(-106.2,41.1)(-105.8,41.2)(-105.5,41.1)(-105.3,41.3)(-106.9,39.9)(-106.5,39.9)(-106.1,39.9)(-105.7,39.8)(-105.4,39.8)(-107.5,39.8)(-108,39.7)(-108.6,39.9)(-109.2,39.5)
(-110.2,39.3)(-109.9,39)(-109.5,39.4)(-109,39.1)(-108.6,39.4)(-108.2,39.1)(-107.8,39.3)(-107.5,39)(-107.1,39.2)(-106.8,39.5)(-106.5,39.1)(-106.2,39.4)(-105.9,39)(-105.6,39.3)(-105.3,39.2)(-111,38.9)(-110.5,38.5)(-110,38.2)(-109.6,38.6)(-109.2,38.2)(-108.7,38.6)(-108.3,38.1)(-107.9,38.5)(-107.5,38.1)(-107.1,38.5)(-106.8,38)(-106.4,38.4)(-106.1,38)(-105.8,38.4)(-105.5,38)(-105.2,38.4)(-104.9,38.1)(-110.6,37.5)(-110.2,37.7)(-109.6,37.2)(-109.1,37.5)(-108.5,37.5)(-108.1,37)(-107.6,37.5)(-107.2,37)(-106.8,37.4)(-106.4,36.9)(-106.1,37.4)(-105.8,36.9)(-105.5,37.3)(-105.2,37.1)(-104.9,37.3)(-106.9,36.5)(-106.6,36.8)(-106.3,36.4)(-106,36.7)(-105.7,36.3)(-105.4,36.6)(-105.1,36.2)(-106.6,35.9)(-106.3,35.6)(-106,35.9)(-105.7,35.6)(-105.4,35.9)(-105.1,35.6)(-106.2,35.2)(-105.8,35.4)(-111.5,36.2)(-110.6,35.3)(-110.6,34.7)(-112,33.7)(-109.5,33.1)(-109.5,33.9)(-109.3,34.1)(-109.5,33.3)(-109.3,33.3)(-108.2,34.1)(-107.4,33.4)(-106.9,33.1)(-106.2,33)(-105.9,33.2)(-105.5,32.4)(-110,34.7)(-110.1,33.9)(-109.3,37.1)(-109.9,36.6)(-108.7,36.1)
(-106.5,38.8)(-106.2,38.9)(-105.8,38.7)(-105.5,38.7)(-106.4,40.2)(-106.1,40.1)(-105.8,40.1)(-105.5,40.2)(-106.3,41.6)(-105.9,41.5)(-105.5,41.5)(-105.6,40.9)(-106.2,40.7)(-105.8,39.6)(-105.4,39.5)(-106.4,37.8)(-106,37.7)(-105.7,37.6)(-105.4,37.8)(-106.5,36)(-106.1,36)(-105.8,36)(-111.2,42.2)(-111.4,41.4)(-110.7,41.2)(-110,41.1)(-109.3,41.1)(-108.5,41.1)(-107.8,41.1)(-110.1,39.8)(-109.3,39.8)(-108.8,38.9)(-108.4,38.8)(-108,38.7)(-112.2,44.5)(-111.7,44.4)(-111.3,44.5)(-110.5,44.5)};
\addplot[ringpt] coordinates {(-97.37,41.36)};
\addplot[ring] coordinates {(-97.37,41.36)};
\end{axis}
% titles
\begin{scope}[every node/.style={anchor=base,text=black!85,font=\titlefont\itshape\fontsize{22}{24}\selectfont}]
\node at (204pt,-27pt) {N. amoenus};
\node at (539.7pt,-27pt) {S. griseus};
\node at (910pt,-27pt) {O. beecheyi};
\node at (198.7pt,-355pt) {N. umbrinus};
\node at (547pt,-355pt) {C. gunnisoni};
\node at (911pt,-355pt) {C. ludovicianus};
\node at (192.8pt,-681.7pt) {C. leucurus};
\node at (553.7pt,-681.7pt) {N. townsendii};
\node at (890.8pt,-681.7pt) {N. minimus};
\end{scope}
\end{tikzpicture}
\end{document}
